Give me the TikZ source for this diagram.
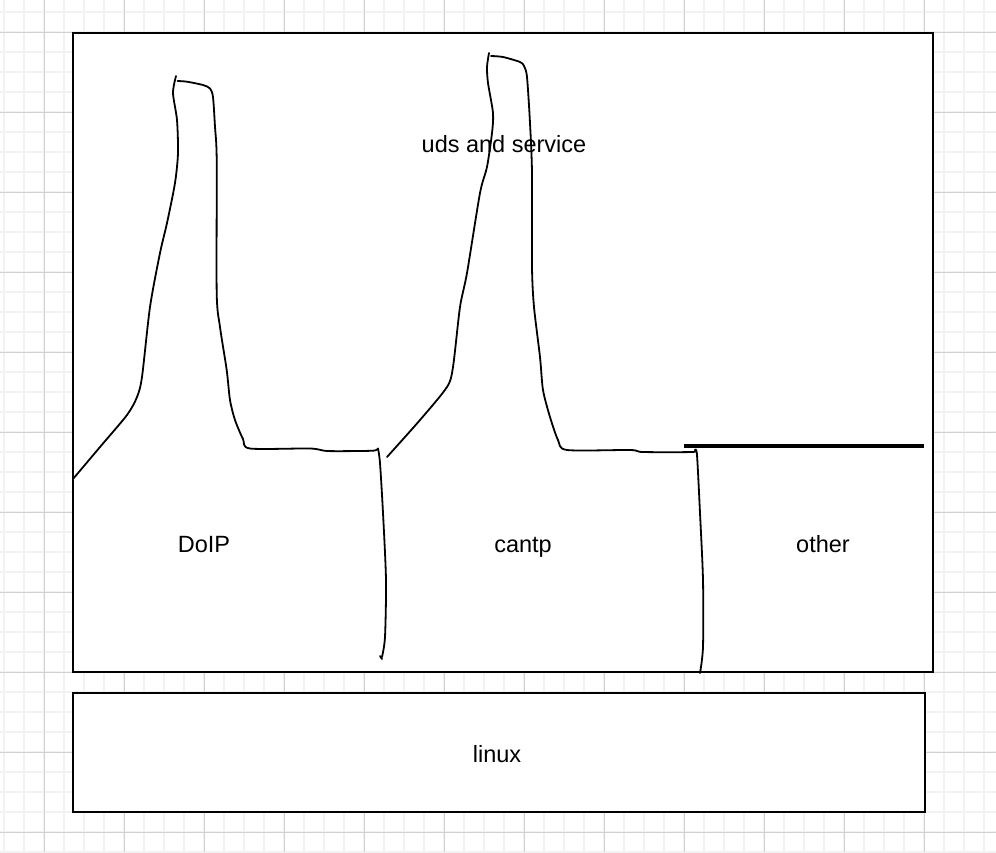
\documentclass[tikz,border=0pt]{standalone}
\usepackage{fontspec}
\setmainfont{Liberation Sans}
\begin{document}
\begin{tikzpicture}[x=1pt,y=-1pt,
  minorgrid/.style={draw=black!5,line width=1.6pt},
  majorgrid/.style={draw=black!18,line width=1pt},
  boxstyle/.style={draw=black,fill=white,line width=2pt,inner sep=0pt},
  lbl/.style={font=\fontsize{23.5}{28}\selectfont,inner sep=0pt,anchor=base},
  hand/.style={draw=black,line width=1.8pt,line cap=round,line join=round}]
\useasboundingbox (0,0) rectangle (996,852);
\fill[white] (0,0) rectangle (996,852);
% grid
\foreach \x in {4,24,...,996} \draw[minorgrid] (\x,0) -- (\x,852);
\foreach \y in {12,32,...,852} \draw[minorgrid] (0,\y) -- (996,\y);
\foreach \x in {44,124,...,996} \draw[majorgrid] (\x,0) -- (\x,852);
\foreach \y in {32,112,...,852} \draw[majorgrid] (0,\y) -- (996,\y);
% boxes
\node[boxstyle,minimum width=860pt,minimum height=639pt] (main) at (503,352.5) {};
\node[boxstyle,minimum width=852pt,minimum height=119pt] (linuxbox) at (499,752.5) {};
% labels
\node[lbl] (uds) at (504,152) {uds and service};
\node[lbl] (doip) at (204,552) {DoIP};
\node[lbl] (cantp) at (523,552) {cantp};
\node[lbl] (other) at (823,552) {other};
\node[lbl] (linux) at (497,762) {linux};
% left freehand shape
\draw[hand] plot[smooth,tension=0.45] coordinates {
 (73,479) (100,447) (127,415) (137,397) (142,377) (150,307) (160,253) (167,223)
 (175,183) (178,153) (177,120) (173,93) (176,76)};
\draw[hand] plot[smooth,tension=0.45] coordinates {
 (177.5,81) (187,81.7) (203,85) (210,88.5) (213,97) (215,127) (216.7,160)
 (216.7,293) (220,327) (226.7,370) (230,400) (235,420) (243,439) (250,448.5)
 (310,448.5) (327,451) (360,451) (375,450.5) (378,448.5)};
\draw[hand] plot[smooth,tension=0.45] coordinates {
 (378,448.5) (380,463) (383,513) (386,580) (385,637) (382,657)};
\draw[hand] (380,656) -- (382,659);
% middle freehand shape
\draw[hand] plot[smooth,tension=0.45] coordinates {
 (387,457) (420,420) (447,387) (453,367) (460,307) (467,273) (480,193)
 (487,167) (492,133) (493,113) (488,83) (487,67) (489,53)};
\draw[hand] plot[smooth,tension=0.45] coordinates {
 (491,56) (503,57) (520,62) (524,66) (527,77) (530,123) (532,173) (532,267)
 (534,307) (540,357) (543,390) (550,417) (558,440) (567,450) (630,450)
 (643,452) (692,452) (695,450)};
\draw[hand] plot[smooth,tension=0.45] coordinates {
 (695,450) (697,455) (700,513) (703,580) (703,647) (700,673)};
% thick line
\draw[draw=black,line width=4pt] (684,445.5) -- (924,445.5);
\end{tikzpicture}
\end{document}
